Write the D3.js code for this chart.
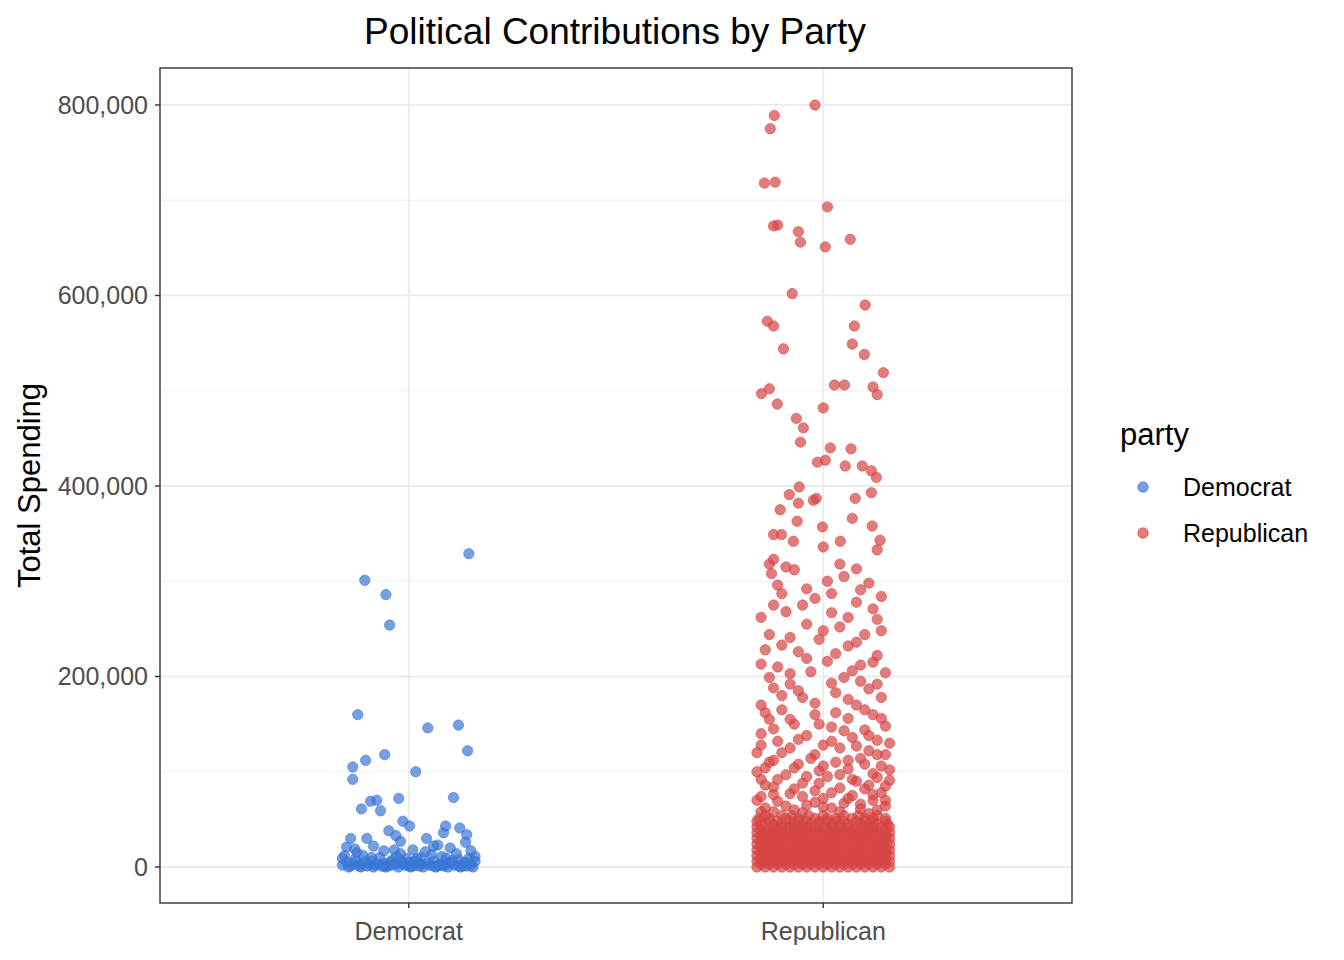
<!DOCTYPE html>
<html>
<head>
<meta charset="utf-8">
<script src="https://cdn.jsdelivr.net/npm/d3@7"></script>
<style>
  body { margin: 0; background: #fff; }
  text { font-family: Arial, "Liberation Sans", sans-serif; }
</style>
</head>
<body>
<script>
// categories and tick labels
const parties = ["Democrat", "Republican"];
const yTicks = [0, 200000, 400000, 600000, 800000];
const yMinor = [100000, 300000, 500000, 700000];

// jittered points: [jitter offset (category units), spending in thousands]
const demSparse = [
  [-0.106,301],[-0.055,286],[-0.046,254],[0.145,329],[-0.123,160],[-0.135,105],[-0.135,92],
  [-0.104,112],[-0.058,118],[0.046,146],[0.12,149],[0.142,122],[0.017,100],[-0.114,61],
  [-0.092,69],[-0.077,70],[-0.068,59],[-0.024,72],[0.108,73],[-0.014,48],[0.002,43],
  [-0.048,38],[0.089,43],[0.084,36],[0.123,41],[0.14,34],[-0.14,30],[-0.101,30],[-0.031,33],
  [0.043,30],[0.137,26],[-0.02,27],[0.06,22],[-0.085,22],[0.1,20],[-0.13,19],[0.01,18]
];
const demDense = [
  [-0.16,2],[-0.15,5],[-0.14,1],[-0.13,8],[-0.12,3],[-0.11,12],[-0.1,1],[-0.09,6],[-0.08,2],
  [-0.07,10],[-0.06,4],[-0.05,1],[-0.04,7],[-0.03,3],[-0.02,14],[-0.01,2],[0,5],[0.01,1],
  [0.02,9],[0.03,3],[0.04,16],[0.05,2],[0.06,6],[0.07,1],[0.08,11],[0.09,3],[0.1,5],
  [0.11,2],[0.12,8],[0.13,1],[0.14,4],[0.15,2],[0.16,6],[-0.155,12],[-0.125,15],[-0.095,3],
  [-0.065,1],[-0.035,18],[-0.005,9],[0.025,1],[0.055,13],[0.085,1],[0.115,14],[0.145,9],
  [-0.145,0],[-0.115,0],[-0.085,0],[-0.055,0],[-0.025,0],[0.005,0],[0.035,0],[0.065,0],
  [0.095,0],[0.125,0],[0.155,0],[-0.15,21],[0.07,23],[-0.06,17],[0.15,17],[-0.02,7],
  [-0.135,4],[-0.105,6],[-0.075,3],[-0.045,5],[-0.015,4],[0.015,6],[0.045,4],[0.075,3],
  [0.105,7],[0.135,5],[-0.16,9],[-0.09,10],[-0.03,11],[0.03,10],[0.09,9],[0.16,11],
  [-0.12,1],[-0.06,1],[0,1],[0.06,1],[0.12,1],[-0.04,2],[0.02,3],[0.08,2],[0.14,1]
];
const repSparse = [
  [-0.02,800],[-0.118,789],[-0.128,775],[-0.142,718],[-0.116,719],[0.01,693],[-0.12,673],
  [-0.11,674],[-0.06,667],[-0.055,656],[0.005,651],[0.065,659],[-0.075,602],[0.101,590],
  [-0.135,573],[-0.12,568],[0.075,568],[-0.096,544],[0.07,549],[0.099,538],[0.145,519],
  [-0.13,502],[-0.149,497],[-0.111,486],[0.027,506],[0.051,506],[0.12,504],[0.130,496],
  [0,482],[-0.065,471],[-0.048,461],[-0.055,446],[0.017,440],[0.067,439],[-0.014,425],
  [0.005,427],[0.053,421],[0.094,421],[0.116,416],[0.128,409],[-0.058,399],[-0.082,391],
  [-0.024,385],[-0.017,387],[0.077,387],[0.116,393],[-0.104,375],[-0.06,382],[0.07,366],
  [0.118,358],[-0.063,363],[-0.002,357],[-0.12,349],[-0.101,349],[0.041,342],[0.137,343],
  [-0.072,342],[0,336],[-0.12,323],[0.13,333],[-0.09,315],[0.04,318],[0.08,313],[-0.125,308],
  [0.01,300],[0.11,298],[-0.04,292],[0.02,287],[-0.1,287],[0.14,284],[0.08,278],[-0.05,275],
  [-0.15,262],[0.13,260],[0.02,267],[-0.12,275],[0.04,252],[-0.08,241],[0.1,244],[-0.01,239],
  [-0.14,228],[0.06,232],[0.13,222],[-0.06,226],[0.09,212],[-0.11,210],[0.01,216],[0.15,204],
  [-0.03,205],[-0.13,199],[0.05,199],[-0.08,192],[0.11,187],[0.14,178],[-0.05,178],[0.03,183],
  [-0.15,170],[0.08,170],[-0.1,165],[0.12,160],[-0.02,160],[0.06,156],[-0.13,155],[0.15,148],
  [-0.07,150],[0.02,147],[0.1,144],[-0.15,140],[-0.04,138],[0.07,136],[0.13,133],[-0.11,132],
  [0.0,128],[0.04,125],[-0.08,125],[0.11,122],[-0.16,120],[0.15,118],[-0.02,118],[0.09,114],
  [-0.12,112],[0.03,110],[-0.06,108],[0.14,106],[-0.14,104],[0.06,103],[-0.01,101],[0.12,98],
  [-0.09,97],[0.01,95],[-0.15,92],[0.16,91],[0.08,90],[-0.05,88],[0.11,86],[-0.12,84],
  [0.04,83],[-0.02,80],[0.14,78],[-0.08,77],[0.07,75],[-0.15,74],[0.0,72],[0.12,70],
  [-0.11,69],[0.05,67],[-0.04,65],[0.15,64],[-0.14,62],[0.09,61],[-0.07,60],[0.02,62],
  // second pass over the busier 60k-330k band
  [-0.13,318],[-0.07,312],[0.05,305],[-0.11,296],[0.09,291],[-0.02,282],[0.12,271],[-0.09,268],
  [0.06,262],[-0.04,255],[0.14,248],[-0.13,244],[0.0,248],[0.08,236],[-0.1,233],[0.03,224],
  [-0.04,219],[0.12,215],[-0.15,213],[0.07,206],[-0.08,203],[-0.12,188],[0.02,193],[0.09,195],
  [-0.06,185],[0.13,192],[0.06,176],[-0.1,180],[-0.02,172],[0.1,165],[-0.14,162],[0.03,162],
  [-0.08,155],[0.14,156],[-0.01,150],[0.05,143],[-0.12,145],[0.11,138],[-0.06,134],[0.16,130],
  [0.02,132],[-0.15,128],[0.08,127],[-0.1,120],[0.13,118],[-0.03,114],[0.06,112],[-0.13,110],
  [0.1,108],[-0.07,104],[0.16,102],[0.0,106],[-0.16,100],[0.04,97],[-0.04,95],[0.13,94],
  [-0.11,92],[0.07,92],[-0.01,88],[0.15,85],[-0.14,86],[0.1,82],[-0.07,82],[0.02,78],
  [-0.12,76],[0.12,76],[-0.05,74],[0.06,72],[-0.16,70],[0.15,70],[-0.02,68],[0.09,66],
  [-0.09,64],[0.0,63],[0.13,60],[-0.12,58],[0.04,58],[-0.05,57],[0.11,56],[-0.15,58]
];
const repDenseRows = [
  { v: 0, dx: [-0.16,-0.14,-0.12,-0.1,-0.08,-0.06,-0.04,-0.02,0,0.02,0.04,0.06,0.08,0.1,0.12,0.14,0.16] },
  { v: 3, dx: [-0.15,-0.13,-0.11,-0.09,-0.07,-0.05,-0.03,-0.01,0.01,0.03,0.05,0.07,0.09,0.11,0.13,0.15] },
  { v: 6, dx: [-0.16,-0.14,-0.12,-0.1,-0.08,-0.06,-0.04,-0.02,0,0.02,0.04,0.06,0.08,0.1,0.12,0.14,0.16] },
  { v: 9, dx: [-0.15,-0.13,-0.11,-0.09,-0.07,-0.05,-0.03,-0.01,0.01,0.03,0.05,0.07,0.09,0.11,0.13,0.15] },
  { v: 12, dx: [-0.16,-0.14,-0.12,-0.1,-0.08,-0.06,-0.04,-0.02,0,0.02,0.04,0.06,0.08,0.1,0.12,0.14,0.16] },
  { v: 15, dx: [-0.15,-0.13,-0.11,-0.09,-0.07,-0.05,-0.03,-0.01,0.01,0.03,0.05,0.07,0.09,0.11,0.13,0.15] },
  { v: 18, dx: [-0.16,-0.14,-0.12,-0.1,-0.08,-0.06,-0.04,-0.02,0,0.02,0.04,0.06,0.08,0.1,0.12,0.14,0.16] },
  { v: 21, dx: [-0.15,-0.13,-0.11,-0.09,-0.07,-0.05,-0.03,-0.01,0.01,0.03,0.05,0.07,0.09,0.11,0.13,0.15] },
  { v: 24, dx: [-0.16,-0.14,-0.12,-0.1,-0.08,-0.06,-0.04,-0.02,0,0.02,0.04,0.06,0.08,0.1,0.12,0.14,0.16] },
  { v: 27, dx: [-0.15,-0.13,-0.11,-0.09,-0.07,-0.05,-0.03,-0.01,0.01,0.03,0.05,0.07,0.09,0.11,0.13,0.15] },
  { v: 30, dx: [-0.16,-0.14,-0.12,-0.1,-0.08,-0.06,-0.04,-0.02,0,0.02,0.04,0.06,0.08,0.1,0.12,0.14,0.16] },
  { v: 33, dx: [-0.15,-0.13,-0.11,-0.09,-0.07,-0.05,-0.03,-0.01,0.01,0.03,0.05,0.07,0.09,0.11,0.13,0.15] },
  { v: 36, dx: [-0.16,-0.14,-0.12,-0.1,-0.08,-0.06,-0.04,-0.02,0,0.02,0.04,0.06,0.08,0.1,0.12,0.14,0.16] },
  { v: 39, dx: [-0.15,-0.13,-0.11,-0.09,-0.07,-0.05,-0.03,-0.01,0.01,0.03,0.05,0.07,0.09,0.11,0.13,0.15] },
  { v: 42, dx: [-0.16,-0.14,-0.12,-0.1,-0.08,-0.06,-0.04,-0.02,0,0.02,0.04,0.06,0.08,0.1,0.12,0.14,0.16] },
  { v: 45, dx: [-0.15,-0.12,-0.1,-0.07,-0.05,-0.03,-0.01,0.02,0.04,0.06,0.09,0.11,0.13,0.155] },
  { v: 48, dx: [-0.16,-0.13,-0.11,-0.08,-0.06,-0.04,-0.01,0.01,0.03,0.05,0.08,0.1,0.12,0.15] },
  { v: 51, dx: [-0.155,-0.13,-0.09,-0.06,-0.02,0.01,0.03,0.07,0.1,0.12,0.15] },
  { v: 54, dx: [-0.14,-0.1,-0.075,-0.035,0,0.05,0.085,0.13] }
];

const demColor = "#3a76d6";
const repColor = "#d64545";

const W = 1344, H = 960;
const panel = { left: 160, right: 1072, top: 68, bottom: 903 };

const svg = d3.select("body").append("svg").attr("width", W).attr("height", H);

const x = d3.scaleLinear().domain([0.4, 2.6]).range([panel.left, panel.right]);
const y = d3.scaleLinear().domain([-37.8, 838.8]).range([panel.bottom, panel.top]);

// grid
const grid = svg.append("g");
yMinor.forEach(v => grid.append("line")
  .attr("x1", panel.left).attr("x2", panel.right)
  .attr("y1", y(v / 1000)).attr("y2", y(v / 1000))
  .attr("stroke", "#ebebeb").attr("stroke-width", 0.8));
yTicks.forEach(v => grid.append("line")
  .attr("x1", panel.left).attr("x2", panel.right)
  .attr("y1", y(v / 1000)).attr("y2", y(v / 1000))
  .attr("stroke", "#ebebeb").attr("stroke-width", 1.8));
parties.forEach((p, i) => grid.append("line")
  .attr("x1", x(i + 1)).attr("x2", x(i + 1))
  .attr("y1", panel.top).attr("y2", panel.bottom)
  .attr("stroke", "#ebebeb").attr("stroke-width", 1.8));

// points
const toPts = (arr, cat) => arr.map(d => ({ cx: x(cat + d[0]), cy: y(d[1]) }));
const repDense = [];
repDenseRows.forEach(r => r.dx.forEach(d => repDense.push([d, r.v])));
const layers = [
  { pts: toPts(demDense, 1).concat(toPts(demSparse, 1)), color: demColor },
  { pts: toPts(repDense, 2).concat(toPts(repSparse, 2)), color: repColor }
];
layers.forEach(l => svg.append("g").selectAll("circle").data(l.pts).join("circle")
  .attr("cx", d => d.cx).attr("cy", d => d.cy).attr("r", 5.2)
  .attr("fill", l.color).attr("fill-opacity", 0.7)
  .attr("stroke", l.color).attr("stroke-opacity", 0.7).attr("stroke-width", 0.8));

// panel border
svg.append("rect")
  .attr("x", panel.left).attr("y", panel.top)
  .attr("width", panel.right - panel.left).attr("height", panel.bottom - panel.top)
  .attr("fill", "none").attr("stroke", "#333").attr("stroke-width", 1.4);

// y axis
const fmt = d3.format(",");
yTicks.forEach(v => {
  svg.append("line").attr("x1", panel.left - 5).attr("x2", panel.left)
    .attr("y1", y(v / 1000)).attr("y2", y(v / 1000)).attr("stroke", "#333").attr("stroke-width", 1.4);
  svg.append("text").attr("x", panel.left - 12).attr("y", y(v / 1000))
    .attr("dy", "0.36em").attr("text-anchor", "end")
    .attr("font-size", 25).attr("fill", "#4d4d4d").text(fmt(v));
});
// x axis
parties.forEach((p, i) => {
  svg.append("line").attr("x1", x(i + 1)).attr("x2", x(i + 1))
    .attr("y1", panel.bottom).attr("y2", panel.bottom + 5).attr("stroke", "#333").attr("stroke-width", 1.4);
  svg.append("text").attr("x", x(i + 1)).attr("y", panel.bottom + 37)
    .attr("text-anchor", "middle").attr("font-size", 25).attr("fill", "#4d4d4d").text(p);
});

svg.append("text").attr("transform", "translate(40," + ((panel.top + panel.bottom) / 2) + ") rotate(-90)")
  .attr("text-anchor", "middle").attr("font-size", 31).attr("fill", "#000").text("Total Spending");
svg.append("text").attr("x", 615).attr("y", 44)
  .attr("text-anchor", "middle").attr("font-size", 37).attr("fill", "#000").text("Political Contributions by Party");

// legend
const lg = svg.append("g").attr("transform", "translate(1120,0)");
lg.append("text").attr("x", 0).attr("y", 445).attr("font-size", 31).text("party");
[[parties[0], demColor, 487], [parties[1], repColor, 533]].forEach(([p, c, yy]) => {
  lg.append("circle").attr("cx", 23).attr("cy", yy).attr("r", 5.2)
    .attr("fill", c).attr("fill-opacity", 0.7).attr("stroke", c).attr("stroke-opacity", 0.7);
  lg.append("text").attr("x", 63).attr("y", yy).attr("dy", "0.36em").attr("font-size", 25).text(p);
});
</script>
</body>
</html>
